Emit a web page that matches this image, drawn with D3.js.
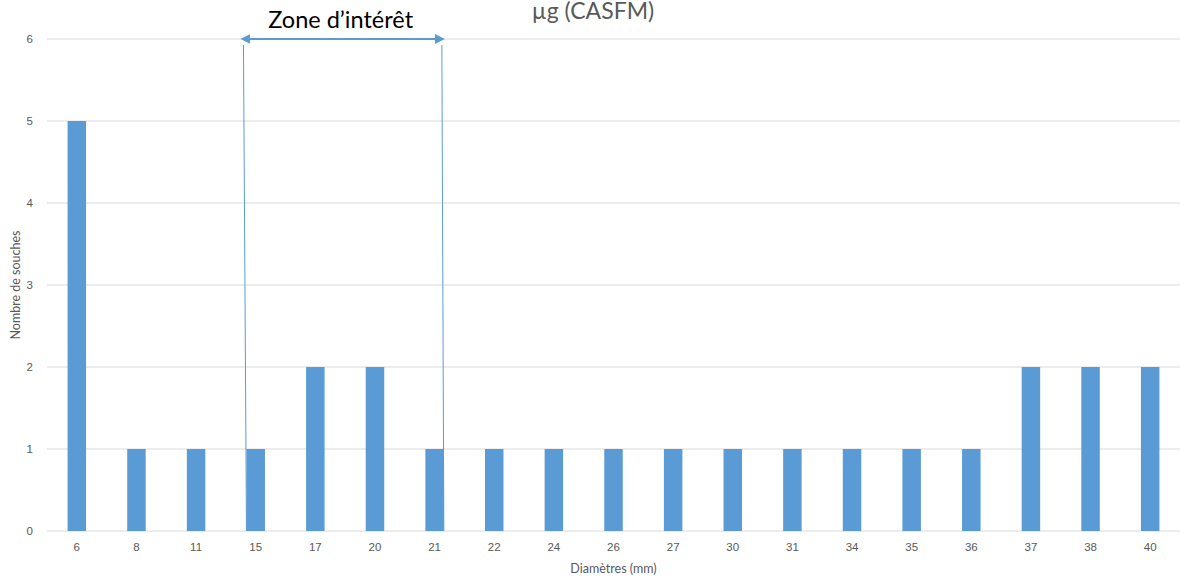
<!DOCTYPE html>
<html>
<head>
<meta charset="utf-8">
<script src="https://cdn.jsdelivr.net/npm/d3@7"></script>
<style>
  html, body { margin: 0; padding: 0; background: #fff; overflow: hidden; }
  svg { display: block; font-family: Lato, "Open Sans", sans-serif; }
  .tick text { fill: #595959; font-size: 11.5px; }
</style>
</head>
<body>
<svg id="chart" width="1181" height="580"></svg>
<script>
// data
const diametres = ['6', '8', '11', '15', '17', '20', '21', '22', '24', '26', '27', '30', '31', '34', '35', '36', '37', '38', '40'];
const souches = [5, 1, 1, 1, 2, 2, 1, 1, 1, 1, 1, 1, 1, 1, 1, 1, 2, 2, 2];
const yTicks = [0, 1, 2, 3, 4, 5, 6];
const zone = ['15', '21'];

const svg = d3.select('#chart');
const c1 = '#5B9BD5';

const padLeft = 47, padRight = 1, padTop = 39, padBottom = 49;
const width = 1181, height = 580;
const innerWidth = width - padLeft - padRight;
const innerHeight = height - padTop - padBottom;

const g = svg.append('g').attr('transform', `translate(${padLeft},${padTop})`);

// scales
const x = d3.scaleBand()
  .domain(diametres)
  .range([0, innerWidth])
  .paddingInner(0.69)
  .paddingOuter(0.345);

const y = d3.scaleLinear()
  .domain([0, 6])
  .range([innerHeight, 0]);

// grid lines
g.selectAll('.grid').data(yTicks)
  .join('line')
  .attr('class', 'grid')
  .attr('x1', 0).attr('x2', innerWidth)
  .attr('y1', d => y(d)).attr('y2', d => y(d))
  .style('stroke', '#D9D9D9')
  .style('stroke-width', 1);

// y axis
g.append('g')
  .call(d3.axisLeft(y).tickValues(yTicks).tickFormat(d3.format('d')).tickSize(0).tickPadding(14))
  .call(a => a.select('.domain').remove());

// x axis
g.append('g')
  .attr('transform', `translate(0,${innerHeight})`)
  .call(d3.axisBottom(x).tickSize(0).tickPadding(12))
  .call(a => a.select('.domain').remove());

// bars
g.selectAll('.bar').data(diametres)
  .join('rect')
  .attr('class', 'bar')
  .attr('x', d => x(d))
  .attr('width', x.bandwidth())
  .attr('y', (d, i) => y(souches[i]))
  .attr('height', (d, i) => y(0) - y(souches[i]))
  .attr('fill', c1);

// axis titles
svg.append('text')
  .attr('x', padLeft + innerWidth / 2)
  .attr('y', 573)
  .attr('text-anchor', 'middle')
  .style('font-size', '12.5px')
  .style('fill', '#595959')
  .text('Diamètres (mm)');

svg.append('text')
  .attr('transform', `translate(20,${padTop + innerHeight / 2}) rotate(-90)`)
  .attr('text-anchor', 'middle')
  .style('font-size', '12.5px')
  .style('fill', '#595959')
  .text('Nombre de souches');

// title (only its last line is visible)
svg.append('text')
  .attr('x', 593)
  .attr('y', 19)
  .attr('text-anchor', 'middle')
  .style('font-size', '23px')
  .style('fill', '#595959')
  .text('µg (CASFM)');

// zone d'intérêt annotation
const zx1 = x(zone[0]) - 3;
const zx2 = x(zone[1]) + x.bandwidth() - 2;

svg.append('defs').selectAll('marker').data(['start', 'end'])
  .join('marker')
  .attr('id', d => 'arrow-' + d)
  .attr('viewBox', '0 0 10 10')
  .attr('refX', 5).attr('refY', 5)
  .attr('markerWidth', 5).attr('markerHeight', 5)
  .attr('orient', d => d === 'start' ? 'auto-start-reverse' : 'auto')
  .append('path')
  .attr('d', 'M0,0 L10,5 L0,10 z')
  .attr('fill', c1);

g.append('line')
  .attr('x1', zx1 + 2).attr('x2', zx2 - 2)
  .attr('y1', y(6)).attr('y2', y(6))
  .style('stroke', c1)
  .style('stroke-width', 2)
  .attr('marker-start', 'url(#arrow-start)')
  .attr('marker-end', 'url(#arrow-end)');

g.selectAll('.zone').data([[zx1, zx1 + 3], [zx2, zx2 + 2]])
  .join('line')
  .attr('class', 'zone')
  .attr('x1', d => d[0]).attr('x2', d => d[1])
  .attr('y1', y(6) + 6).attr('y2', y(0))
  .style('stroke', c1)
  .style('stroke-width', 1);

g.append('text')
  .attr('x', (zx1 + zx2) / 2 - 2)
  .attr('y', y(6) - 11)
  .attr('text-anchor', 'middle')
  .style('font-size', '23.5px')
  .style('fill', '#000')
  .text('Zone d’intérêt');
</script>
</body>
</html>
